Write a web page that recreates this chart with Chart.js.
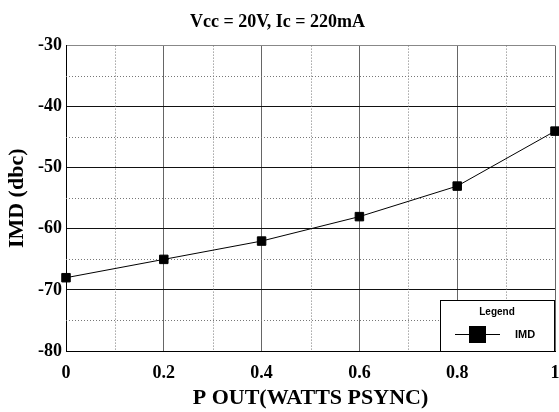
<!DOCTYPE html>
<html>
<head>
<meta charset="utf-8">
<script src="https://cdn.jsdelivr.net/npm/chart.js@4.4.0/dist/chart.umd.min.js"></script>
<style>
  html, body { margin: 0; padding: 0; background: #fff; }
  #wrap { width: 559px; height: 412px; }
</style>
</head>
<body>
<div id="wrap"><canvas id="imdChart" width="559" height="412"></canvas></div>
<script>
// Chart data
const pOut = [0, 0.2, 0.4, 0.6, 0.8, 1];
const imd = [-68, -65, -62, -58, -53, -44];
const xTicks = [0, 0.2, 0.4, 0.6, 0.8, 1];
const yTicks = [-80, -70, -60, -50, -40, -30];
const xMinor = [0.1, 0.3, 0.5, 0.7, 0.9];
const yMinor = [-75, -65, -55, -45, -35];

const serif = "'Liberation Serif', 'Times New Roman', serif";
const sans = "'Liberation Sans', Arial, sans-serif";

// dotted minor grid
const minorGrid = {
  id: "minorGrid",
  beforeDatasetsDraw(chart) {
    const { ctx, chartArea: a, scales: { x, y } } = chart;
    ctx.save();
    ctx.strokeStyle = "#777";
    ctx.lineWidth = 1;
    ctx.setLineDash([1, 2]);
    xMinor.forEach(v => {
      const px = Math.round(x.getPixelForValue(v)) + 0.5;
      ctx.beginPath(); ctx.moveTo(px, a.top); ctx.lineTo(px, a.bottom); ctx.stroke();
    });
    yMinor.forEach(v => {
      const py = Math.round(y.getPixelForValue(v)) + 0.5;
      ctx.beginPath(); ctx.moveTo(a.left, py); ctx.lineTo(a.right, py); ctx.stroke();
    });
    ctx.restore();
  }
};

// boxed legend in the lower right corner
const boxLegend = {
  id: "boxLegend",
  afterDraw(chart) {
    const { ctx, chartArea: a } = chart;
    const ds = chart.data.datasets[0];
    const w = 114, h = 51;
    const bx = Math.round(a.right) - w - 1, by = Math.round(a.bottom) - h;
    ctx.save();
    ctx.fillStyle = "#fff";
    ctx.fillRect(bx, by, w, h);
    ctx.strokeStyle = "#000";
    ctx.lineWidth = 1;
    ctx.strokeRect(bx + 0.5, by + 0.5, w, h);
    ctx.fillStyle = "#000";
    ctx.font = "bold 10px " + sans;
    ctx.textAlign = "center";
    ctx.textBaseline = "middle";
    ctx.fillText("Legend", bx + 57, by + 12);
    const ly = by + 34;
    ctx.strokeStyle = ds.borderColor;
    ctx.beginPath(); ctx.moveTo(bx + 15, ly + 0.5); ctx.lineTo(bx + 60, ly + 0.5); ctx.stroke();
    ctx.fillStyle = ds.pointBackgroundColor;
    ctx.fillRect(bx + 29, ly - 8, 17, 17);
    ctx.fillStyle = "#000";
    ctx.font = "bold 11px " + sans;
    ctx.textAlign = "left";
    ctx.fillText(ds.label, bx + 75, ly + 1);
    ctx.restore();
  }
};

new Chart(document.getElementById("imdChart"), {
  type: "line",
  data: {
    datasets: [{
      label: "IMD",
      data: pOut.map((v, i) => ({ x: v, y: imd[i] })),
      borderColor: "#000",
      borderWidth: 1,
      pointStyle: "rect",
      pointRadius: 6,
      pointBackgroundColor: "#000",
      pointBorderColor: "#000",
      pointBorderWidth: 1,
      tension: 0,
      clip: false
    }]
  },
  options: {
    responsive: false,
    animation: false,
    layout: { autoPadding: false, padding: { left: 0, right: 4, top: 0, bottom: 0 } },
    plugins: {
      legend: { display: false },
      tooltip: { enabled: false },
      title: {
        display: true,
        text: "Vcc = 20V, Ic = 220mA",
        color: "#000",
        font: { family: serif, size: 18, weight: "bold" },
        padding: { top: 12, bottom: 12 }
      }
    },
    scales: {
      x: {
        type: "linear",
        min: 0, max: 1,
        afterBuildTicks: s => { s.ticks = xTicks.map(v => ({ value: v })); },
        afterFit: s => { s.height = 61; s.paddingRight = 0; s.paddingLeft = 0; },
        grid: { color: "#666", lineWidth: 1, drawTicks: false },
        border: { color: "#000", width: 1 },
        ticks: {
          color: "#000", padding: 12,
          font: { family: serif, size: 18, weight: "bold" },
          callback: v => String(Math.round(v * 10) / 10)
        },
        title: {
          display: true, text: "P OUT(WATTS PSYNC)", color: "#000",
          font: { family: serif, size: 22, weight: "bold" },
          padding: { top: 2, bottom: 0 }
        }
      },
      y: {
        type: "linear",
        min: -80, max: -30,
        afterBuildTicks: s => { s.ticks = yTicks.map(v => ({ value: v })); },
        afterFit: s => { s.width = 66; s.paddingTop = 0; s.paddingBottom = 0; },
        grid: {
          color: c => c.tick && c.tick.value === -30 ? "#888" : "#111",
          lineWidth: 1, drawTicks: false
        },
        border: { color: "#000", width: 1 },
        ticks: {
          color: "#000", padding: 4,
          font: { family: serif, size: 18, weight: "bold" }
        },
        title: {
          display: true, text: "IMD (dbc)", color: "#000",
          font: { family: serif, size: 22, weight: "bold" },
          padding: { top: 4, bottom: 0 }
        }
      }
    }
  },
  plugins: [minorGrid, boxLegend]
});
</script>
</body>
</html>
